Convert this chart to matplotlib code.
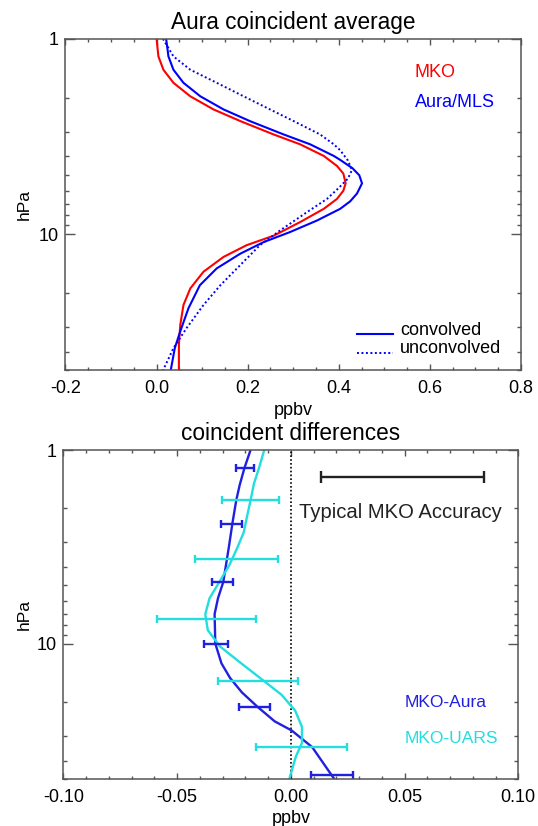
import matplotlib
matplotlib.use("Agg")
import matplotlib.pyplot as plt
from matplotlib.ticker import FixedLocator, MultipleLocator, FuncFormatter, NullFormatter, LogLocator

plt.rcParams["font.family"] = ["Liberation Sans", "DejaVu Sans"]
plt.rcParams["font.size"] = 13

# ---- top panel: Aura coincident average (ppbv vs hPa)
p_mko = [1.0, 1.23, 1.44, 1.68, 1.97, 2.30, 2.64, 3.09, 3.47, 3.98, 4.48, 4.9, 5.5, 6.0,
         6.61, 7.43, 8.69, 10.2, 11.4, 13.1, 15.6, 19.0, 23.1, 29.2, 36.9, 50.0]
mko = [0.000, 0.004, 0.015, 0.037, 0.074, 0.125, 0.184, 0.257, 0.315, 0.367, 0.396, 0.410,
       0.415, 0.410, 0.396, 0.367, 0.315, 0.257, 0.198, 0.147, 0.103, 0.074, 0.059, 0.052,
       0.049, 0.049]

p_conv = [1.0, 1.23, 1.44, 1.68, 1.97, 2.30, 2.64, 3.09, 3.47, 3.98, 4.17, 4.6, 5.0, 5.5,
          6.2, 6.8, 7.43, 8.53, 9.77, 11.0, 12.6, 15.0, 18.3, 24.0, 31.5, 38.4, 50.0]
aura_conv = [0.021, 0.026, 0.037, 0.059, 0.096, 0.147, 0.205, 0.279, 0.337, 0.389, 0.403,
             0.430, 0.445, 0.451, 0.440, 0.425, 0.403, 0.352, 0.293, 0.235, 0.184, 0.132,
             0.095, 0.070, 0.052, 0.040, 0.031]

p_unconv = [1.0, 1.23, 1.44, 1.68, 1.97, 2.30, 2.64, 3.09, 3.47, 3.72, 4.2, 4.7, 5.2, 5.8,
            6.61, 7.73, 9.59, 11.4, 14.4, 18.3, 23.1, 30.3, 38.4, 50.0]
aura_unconv = [0.014, 0.037, 0.074, 0.132, 0.191, 0.249, 0.301, 0.359, 0.389, 0.403, 0.420,
               0.429, 0.420, 0.400, 0.374, 0.330, 0.271, 0.227, 0.184, 0.140, 0.103, 0.066,
               0.037, 0.014]

# ---- bottom panel: coincident differences
p_aura = [1.0, 1.24, 1.52, 1.82, 2.40, 3.15, 4.80, 5.81, 7.02, 9.96, 12.6, 15.0,
          17.8, 21.1, 25.1, 28.0, 34.1, 50.0]
diff_aura = [-0.0177, -0.0204, -0.0225, -0.0240, -0.0257, -0.0272, -0.0297, -0.0320,
             -0.0335, -0.0332, -0.0305, -0.0267, -0.0215, -0.0147, -0.0071, 0.0004,
             0.0094, 0.0192]
p_uars = [1.0, 1.23, 1.49, 1.82, 2.19, 2.66, 3.23, 3.92, 4.75, 5.81, 7.02, 8.49,
          10.3, 12.5, 15.1, 18.3, 22.1, 26.8, 32.4, 38.2, 50.0]
diff_uars = [-0.0117, -0.0139, -0.0162, -0.0177, -0.0192, -0.0207, -0.0237, -0.0270,
             -0.0312, -0.0357, -0.0376, -0.0365, -0.0312, -0.0222, -0.0132, -0.0041,
             0.0019, 0.0049, 0.0049, 0.0022, -0.0007]

bar_p_aura = [1.24, 2.40, 4.80, 9.96, 21.3, 47.4]
bar_x_aura = [-0.0201, -0.0260, -0.0300, -0.0330, -0.0160, 0.0180]
bar_err_aura = [0.0039, 0.0046, 0.0047, 0.0052, 0.0069, 0.0093]

bar_p_uars = [1.82, 3.64, 7.41, 15.6, 33.9]
bar_x_uars = [-0.0178, -0.0239, -0.0371, -0.0144, 0.0047]
bar_err_uars = [0.0126, 0.0182, 0.0217, 0.0177, 0.0202]

acc_p = 1.37
acc_x = 0.049
acc_err = 0.0358

RED = "#ff0000"
BLUE = "#0000ff"
DBLUE = "#2020e0"
CYAN = "#22dede"
SPINE = "#555555"
DOTS = (0, (1, 1.3))


def style_axes(ax, xmajor, xminor, fmt):
    ax.set_yscale("log")
    ax.set_ylim(50, 1)
    ax.yaxis.set_major_locator(FixedLocator([1, 10]))
    ax.yaxis.set_minor_locator(LogLocator(base=10, subs=range(2, 10)))
    ax.yaxis.set_major_formatter(FuncFormatter(lambda v, _: f"{v:g}"))
    ax.yaxis.set_minor_formatter(NullFormatter())
    ax.xaxis.set_major_locator(MultipleLocator(xmajor))
    ax.xaxis.set_minor_locator(MultipleLocator(xminor))
    ax.xaxis.set_major_formatter(FuncFormatter(lambda v, _: fmt.format(v).replace("-0.0", "0.0")
                                               if abs(v) < 1e-9 else fmt.format(v)))
    ax.tick_params(which="both", direction="in", top=True, right=True, color=SPINE, width=1)
    ax.tick_params(axis="x", which="major", length=4.3, pad=7)
    ax.tick_params(axis="x", which="minor", length=2.5)
    ax.tick_params(axis="y", which="major", length=7, pad=5)
    ax.tick_params(axis="y", which="minor", length=3.2)
    for s in ax.spines.values():
        s.set_color(SPINE)
        s.set_linewidth(1.1)
    ax.set_ylabel("hPa", fontsize=12.5)
    ax.set_xlabel("ppbv", fontsize=13)
    ax.xaxis.set_label_coords(0.5, -0.094)


fig = plt.figure(figsize=(5.38, 8.26), dpi=100)

# top panel
ax1 = fig.add_axes([0.1217, 0.5515, 0.8467, 0.4015])
ax1.plot(mko, p_mko, color=RED, lw=1.5)
ax1.plot(aura_conv, p_conv, color=BLUE, lw=1.5)
ax1.plot(aura_unconv, p_unconv, color=BLUE, lw=1.4, ls=DOTS)
ax1.set_xlim(-0.2, 0.8)
style_axes(ax1, 0.2, 0.05, "{:.1f}")
ax1.yaxis.set_label_coords(-0.074, 0.5)
ax1.set_title("Aura coincident average", fontsize=16.3, pad=7)
ax1.text(0.767, 0.898, "MKO", color=RED, va="center", fontsize=13, transform=ax1.transAxes)
ax1.text(0.767, 0.807, "Aura/MLS", color=BLUE, va="center", fontsize=13, transform=ax1.transAxes)
ax1.plot([0.639, 0.720], [0.110, 0.110], color=BLUE, lw=1.5, transform=ax1.transAxes)
ax1.plot([0.639, 0.720], [0.053, 0.053], color=BLUE, lw=1.4, ls=DOTS, transform=ax1.transAxes)
ax1.text(0.734, 0.119, "convolved", va="center", fontsize=13, transform=ax1.transAxes)
ax1.text(0.734, 0.065, "unconvolved", va="center", fontsize=13, transform=ax1.transAxes)

# bottom panel
ax2 = fig.add_axes([0.1177, 0.0565, 0.8457, 0.3987])
ax2.axvline(0.0, color="black", lw=1.2, ls=DOTS)
ax2.plot(diff_aura, p_aura, color=DBLUE, lw=1.7)
ax2.plot(diff_uars, p_uars, color=CYAN, lw=1.7)
ax2.errorbar(bar_x_aura, bar_p_aura, xerr=bar_err_aura, fmt="none", ecolor=DBLUE,
             elinewidth=1.7, capsize=3, capthick=1.7)
ax2.errorbar(bar_x_uars, bar_p_uars, xerr=bar_err_uars, fmt="none", ecolor=CYAN,
             elinewidth=1.7, capsize=3, capthick=1.7)
ax2.errorbar([acc_x], [acc_p], xerr=[acc_err], fmt="none", ecolor="#222222",
             elinewidth=1.7, capsize=4, capthick=1.7)
ax2.set_xlim(-0.1, 0.1)
style_axes(ax2, 0.05, 0.01, "{:.2f}")
ax2.yaxis.set_label_coords(-0.069, 0.5)
ax2.set_title("coincident differences", fontsize=16.3, pad=7)
ax2.text(0.0034, 2.09, "Typical MKO Accuracy", va="center", fontsize=14.6, color="#222222")
ax2.text(0.05, 20.0, "MKO-Aura", color=DBLUE, va="center", fontsize=12.5)
ax2.text(0.05, 30.7, "MKO-UARS", color=CYAN, va="center", fontsize=12.5)

fig.savefig("out.png", dpi=100, facecolor="white")
